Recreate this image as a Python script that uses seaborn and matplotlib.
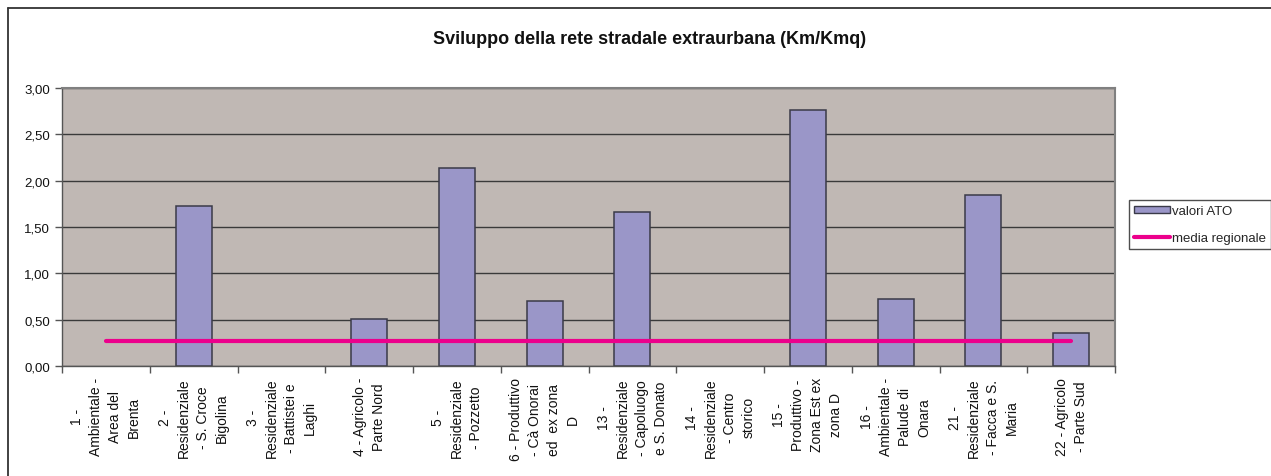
import numpy as np
import pandas as pd
import seaborn as sns
import matplotlib.pyplot as plt
from matplotlib.patches import Patch
from matplotlib.lines import Line2D
from matplotlib.ticker import FuncFormatter, FixedLocator

categories = [
    "1 -\nAmbientale -\nArea del\nBrenta",
    "2 -\nResidenziale\n- S. Croce\nBigolina",
    "3 -\nResidenziale\n- Battistei e\nLaghi",
    "4 - Agricolo -\nParte Nord",
    "5 -\nResidenziale\n- Pozzetto",
    "6 - Produttivo\n- Cà Onorai\ned  ex zona\nD",
    "13 -\nResidenziale\n- Capoluogo\ne S. Donato",
    "14 -\nResidenziale\n- Centro\nstorico",
    "15 -\nProduttivo -\nZona Est ex\nzona D",
    "16 -\nAmbientale -\nPalude di\nOnara",
    "21 -\nResidenziale\n- Facca e S.\nMaria",
    "22 - Agricolo\n- Parte Sud",
]
valori_ato = [np.nan, 1.73, np.nan, 0.51, 2.14, 0.70, 1.66, np.nan, 2.76, 0.72, 1.85, 0.36]
media_regionale = [0.27, 0.27, 0.27, 0.27, 0.27, 0.27, 0.27, 0.27, 0.27, 0.27, 0.27, 0.27]
y_ticks = [0.0, 0.5, 1.0, 1.5, 2.0, 2.5, 3.0]

sns.set_style("white")
plt.rcParams["font.family"] = ["Liberation Sans", "DejaVu Sans"]

df = pd.DataFrame({"zona": categories, "valori": valori_ato, "media": media_regionale})
df["pos"] = np.arange(len(categories))

fig = plt.figure(figsize=(12.71, 4.77), dpi=100)
ax = fig.add_axes([62 / 1271, 1 - 367 / 477, (1115 - 62) / 1271, (367 - 89) / 477])
ax.set_facecolor("#C0B8B4")

# outer chart border (cropped on the right and bottom)
fig.add_artist(Line2D([8 / 1271, 8 / 1271], [0, 1 - 9 / 477], transform=fig.transFigure,
                      color="#333333", lw=1.3))
fig.add_artist(Line2D([8 / 1271, 1], [1 - 9 / 477, 1 - 9 / 477], transform=fig.transFigure,
                      color="#333333", lw=1.3))

ax.yaxis.grid(True, color="#3a3a3a", lw=1.0)
ax.set_axisbelow(True)

sns.barplot(data=df, x="zona", y="valori", order=categories, color="#9A96C8",
            saturation=1, width=0.41, edgecolor="#3a3a48", linewidth=1.1, ax=ax)
sns.lineplot(data=df, x="pos", y="media", color="#EC008C", lw=3.0, ax=ax)

ax.set_xlim(-0.5, len(categories) - 0.5)
ax.set_ylim(0, 3.0)
ax.set_yticks(y_ticks)
ax.yaxis.set_major_formatter(FuncFormatter(lambda v, p: f"{v:.2f}".replace(".", ",")))
ax.set_xticks(range(len(categories)))
ax.set_xticklabels(categories, rotation=90, ha="center", va="top", fontsize=10,
                   multialignment="center", linespacing=1.45, color="#111111")
ax.tick_params(axis="x", which="major", length=0, pad=8)
ax.xaxis.set_minor_locator(FixedLocator(np.arange(-0.5, len(categories), 1.0)))
ax.tick_params(axis="x", which="minor", length=5, width=1, color="#555555", direction="out",
               bottom=True)
ax.tick_params(axis="y", length=5, width=1, color="#555555", direction="out", left=True,
               labelsize=9.5, labelcolor="#111111")
ax.set_xlabel("")
ax.set_ylabel("")

for side in ["top", "right"]:
    ax.spines[side].set_color("#808080")
    ax.spines[side].set_linewidth(1.5)
for side in ["left", "bottom"]:
    ax.spines[side].set_color("#555555")
    ax.spines[side].set_linewidth(1.0)

fig.text(650 / 1271, 1 - 40 / 477, "Sviluppo della rete stradale extraurbana (Km/Kmq)",
         ha="center", va="center", fontsize=13, fontweight="bold", color="#111111")

handles = [Patch(facecolor="#9A96C8", edgecolor="#3a3a48", lw=1.0, label="valori ATO"),
           Line2D([], [], color="#EC008C", lw=3.0, label="media regionale")]
leg = fig.legend(handles=handles, loc="upper left", bbox_to_anchor=(1129 / 1271, 1 - 201 / 477),
                 frameon=True, fancybox=False, fontsize=9.5, handlelength=2.7,
                 handleheight=0.5, handletextpad=0.15, borderpad=0.4, labelspacing=1.1,
                 borderaxespad=0)
leg.get_frame().set_edgecolor("#222222")
leg.get_frame().set_linewidth(1.0)

fig.savefig("out.png", dpi=100)
